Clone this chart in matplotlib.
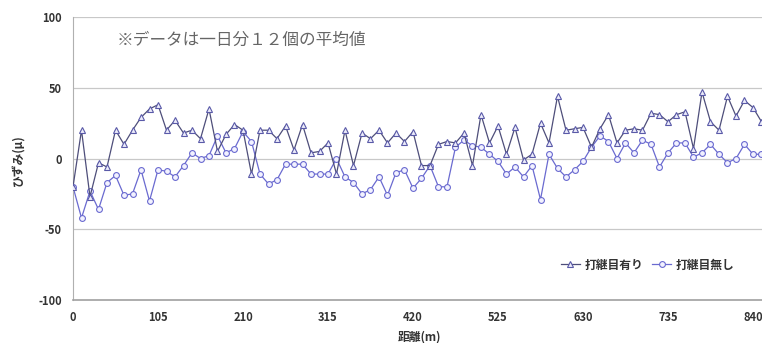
"""
Strain along the distance, with and without construction joints.
Daily mean of 12 readings per point.
"""

import numpy as np
import matplotlib
matplotlib.use("Agg")
import matplotlib.pyplot as plt

plt.rcParams['font.family'] = ['Noto Sans CJK JP', 'DejaVu Sans']
plt.rcParams['axes.unicode_minus'] = False

# distance step between points (m)
step = 10.5

# strain with joints (triangles)
with_joint = [
    -20, 20, -27, -3, -6, 20, 10, 20, 29, 35,
    38, 20, 27, 18, 20, 14, 35, 5, 17, 24,
    20, -11, 20, 20, 14, 23, 6, 24, 4, 5,
    11, -11, 20, -5, 18, 14, 20, 11, 18, 12,
    19, -5, -5, 10, 12, 11, 18, -5, 31, 11,
    23, 3, 22, -1, 3, 25, 11, 44, 20, 21,
    22, 8, 21, 31, 11, 20, 21, 20, 32, 31,
    26, 31, 33, 7, 47, 26, 20, 44, 30, 41,
    36, 26,
]

# strain without joints (circles)
without_joint = [
    -20, -42, -23, -36, -17, -12, -26, -25, -8, -30,
    -8, -9, -13, -5, 4, 0, 2, 16, 4, 7,
    19, 12, -11, -18, -15, -4, -4, -4, -11, -11,
    -11, 0, -13, -17, -25, -22, -13, -26, -10, -8,
    -21, -14, -5, -20, -20, 8, 13, 9, 8, 3,
    -2, -11, -6, -13, -5, -29, 3, -7, -13, -8,
    -2, 8, 16, 12, 0, 11, 4, 13, 10, -6,
    4, 11, 11, 1, 4, 10, 3, -3, 0, 10,
    3, 3,
]

distance = np.arange(len(with_joint)) * step
x_ticks = [0, 105, 210, 315, 420, 525, 630, 735, 840]
y_ticks = [-100, -50, 0, 50, 100]

W, H = 762, 343
fig = plt.figure(figsize=(W / 100, H / 100), dpi=100)

# plot area: 0 m at px 73, 840 m at px 753, +100 at px 17, -100 at px 300
x_left, x_840 = 73, 753
px_per_m = (x_840 - x_left) / 840
x_max = (W - x_left) / px_per_m
ax = fig.add_axes([x_left / W, (H - 300) / H, (W - x_left) / W, 283 / H])

ax.plot(distance, with_joint, color='#4e4e7a', lw=0.9,
        marker='^', ms=4.5, mfc='#ececfa', mec='#5a5aa8', mew=0.8,
        label='打継目有り', zorder=3)
ax.plot(distance, without_joint, color='#6a6ad0', lw=0.9,
        marker='o', ms=4.2, mfc='#f2f2ff', mec='#6a6ad0', mew=0.8,
        label='打継目無し', zorder=2)

ax.set_xlim(0, x_max)
ax.set_ylim(-100, 100)
ax.set_xticks(x_ticks)
ax.set_yticks(y_ticks)
ax.tick_params(length=0, labelsize=8, labelcolor='#333333', pad=8)
for lab in ax.get_xticklabels() + ax.get_yticklabels():
    lab.set_fontweight('bold')

for y in [-50, 0, 50, 100]:
    ax.axhline(y, color='#c8c8c8', lw=0.9, zorder=1)

for side in ['top', 'right']:
    ax.spines[side].set_visible(False)
ax.spines['left'].set_color('#b0b0b0')
ax.spines['bottom'].set_color('#a0a0a0')
ax.spines['bottom'].set_linewidth(1.2)

fig.text(117 / W, 1 - 40 / H, '※データは一日分１２個の平均値',
         fontsize=12, color='#666666', va='center', ha='left')
fig.text(19 / W, 1 - 160 / H, 'ひずみ(μ)', rotation=90, fontsize=8.5,
         fontweight='bold', color='#333333', va='center', ha='center')
fig.text(420 / W, 1 - 337 / H, '距離(m)', fontsize=8.5,
         fontweight='bold', color='#333333', va='center', ha='center')

ax.legend(loc='center left', bbox_to_anchor=(550 / W, 1 - 265 / H),
          bbox_transform=fig.transFigure, ncol=2, frameon=False,
          prop={'size': 8.5, 'weight': 'bold'}, handlelength=1.6,
          handletextpad=0.4, columnspacing=0.8, labelcolor='#333333')

fig.savefig('out.png', dpi=100)
